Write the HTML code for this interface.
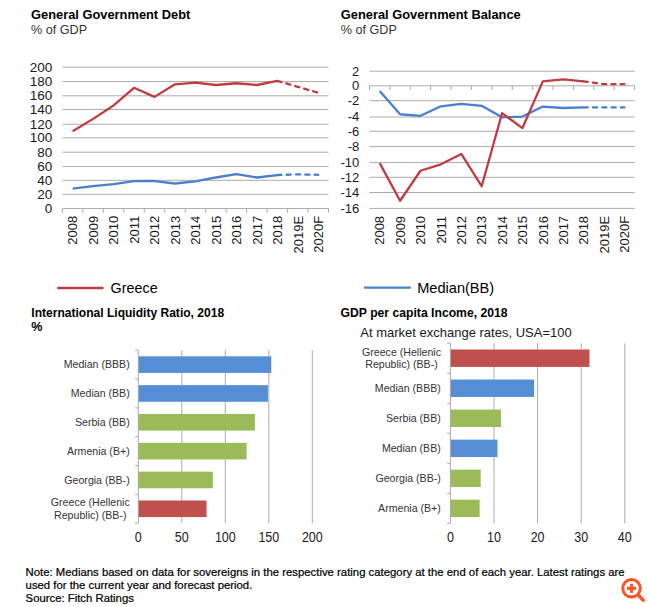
<!DOCTYPE html>
<html><head><meta charset="utf-8"><title>Greece Sovereign Charts</title>
<style>
html,body{margin:0;padding:0;background:#fff;}
body{width:650px;height:607px;overflow:hidden;}
svg{display:block;font-family:"Liberation Sans", Arial, sans-serif;}
text{fill:#1a1a1a;}
.yl{font-size:13.5px;}
.yl2{font-size:13px;}
.xl{font-size:13px;}
.lg{font-size:14.3px;fill:#000;}
.cl{font-size:10.6px;fill:#333;}
.bx{font-size:12.5px;}
.t1{font-size:12.85px;font-weight:bold;fill:#000;}
.st{font-size:12.6px;fill:#333;}
.t2{font-size:12.05px;font-weight:bold;fill:#000;}
.sub{font-size:13px;}
.fn{font-size:11.34px;fill:#000;stroke:#000;stroke-width:0.22px;}
</style></head>
<body>
<svg width="650" height="607" viewBox="0 0 650 607">
<line x1="62.4" y1="194.3" x2="328.5" y2="194.3" stroke="#ababab" stroke-width="1"/>
<line x1="62.4" y1="180.3" x2="328.5" y2="180.3" stroke="#ababab" stroke-width="1"/>
<line x1="62.4" y1="166.5" x2="328.5" y2="166.5" stroke="#ababab" stroke-width="1"/>
<line x1="62.4" y1="152.2" x2="328.5" y2="152.2" stroke="#ababab" stroke-width="1"/>
<line x1="62.4" y1="137.8" x2="328.5" y2="137.8" stroke="#ababab" stroke-width="1"/>
<line x1="62.4" y1="124.25" x2="328.5" y2="124.25" stroke="#ababab" stroke-width="1"/>
<line x1="62.4" y1="109.45" x2="328.5" y2="109.45" stroke="#ababab" stroke-width="1"/>
<line x1="62.4" y1="95.8" x2="328.5" y2="95.8" stroke="#ababab" stroke-width="1"/>
<line x1="62.4" y1="81.55" x2="328.5" y2="81.55" stroke="#ababab" stroke-width="1"/>
<line x1="62.4" y1="67.15" x2="328.5" y2="67.15" stroke="#ababab" stroke-width="1"/>
<line x1="62.4" y1="208.55" x2="328.5" y2="208.55" stroke="#ababab" stroke-width="1"/>
<line x1="62.4" y1="208.55" x2="62.4" y2="212.75" stroke="#ababab" stroke-width="1"/>
<line x1="82.87" y1="208.55" x2="82.87" y2="212.75" stroke="#ababab" stroke-width="1"/>
<line x1="103.34" y1="208.55" x2="103.34" y2="212.75" stroke="#ababab" stroke-width="1"/>
<line x1="123.81" y1="208.55" x2="123.81" y2="212.75" stroke="#ababab" stroke-width="1"/>
<line x1="144.28" y1="208.55" x2="144.28" y2="212.75" stroke="#ababab" stroke-width="1"/>
<line x1="164.75" y1="208.55" x2="164.75" y2="212.75" stroke="#ababab" stroke-width="1"/>
<line x1="185.22" y1="208.55" x2="185.22" y2="212.75" stroke="#ababab" stroke-width="1"/>
<line x1="205.68" y1="208.55" x2="205.68" y2="212.75" stroke="#ababab" stroke-width="1"/>
<line x1="226.15" y1="208.55" x2="226.15" y2="212.75" stroke="#ababab" stroke-width="1"/>
<line x1="246.62" y1="208.55" x2="246.62" y2="212.75" stroke="#ababab" stroke-width="1"/>
<line x1="267.09" y1="208.55" x2="267.09" y2="212.75" stroke="#ababab" stroke-width="1"/>
<line x1="287.56" y1="208.55" x2="287.56" y2="212.75" stroke="#ababab" stroke-width="1"/>
<line x1="308.03" y1="208.55" x2="308.03" y2="212.75" stroke="#ababab" stroke-width="1"/>
<line x1="328.5" y1="208.55" x2="328.5" y2="212.75" stroke="#ababab" stroke-width="1"/>
<text x="52.3" y="212.9" text-anchor="end" class="yl">0</text>
<text x="52.3" y="198.7" text-anchor="end" class="yl">20</text>
<text x="52.3" y="184.7" text-anchor="end" class="yl">40</text>
<text x="52.3" y="170.9" text-anchor="end" class="yl">60</text>
<text x="52.3" y="156.6" text-anchor="end" class="yl">80</text>
<text x="52.3" y="142.2" text-anchor="end" class="yl">100</text>
<text x="52.3" y="128.65" text-anchor="end" class="yl">120</text>
<text x="52.3" y="113.85" text-anchor="end" class="yl">140</text>
<text x="52.3" y="100.2" text-anchor="end" class="yl">160</text>
<text x="52.3" y="85.95" text-anchor="end" class="yl">180</text>
<text x="52.3" y="71.55" text-anchor="end" class="yl">200</text>
<text transform="translate(77.33,215.8) rotate(-90)" text-anchor="end" class="xl">2008</text>
<text transform="translate(97.8,215.8) rotate(-90)" text-anchor="end" class="xl">2009</text>
<text transform="translate(118.27,215.8) rotate(-90)" text-anchor="end" class="xl">2010</text>
<text transform="translate(138.74,215.8) rotate(-90)" text-anchor="end" class="xl">2011</text>
<text transform="translate(159.21,215.8) rotate(-90)" text-anchor="end" class="xl">2012</text>
<text transform="translate(179.68,215.8) rotate(-90)" text-anchor="end" class="xl">2013</text>
<text transform="translate(200.15,215.8) rotate(-90)" text-anchor="end" class="xl">2014</text>
<text transform="translate(220.62,215.8) rotate(-90)" text-anchor="end" class="xl">2015</text>
<text transform="translate(241.09,215.8) rotate(-90)" text-anchor="end" class="xl">2016</text>
<text transform="translate(261.56,215.8) rotate(-90)" text-anchor="end" class="xl">2017</text>
<text transform="translate(282.03,215.8) rotate(-90)" text-anchor="end" class="xl">2018</text>
<text transform="translate(302.5,215.8) rotate(-90)" text-anchor="end" class="xl">2019E</text>
<text transform="translate(322.97,215.8) rotate(-90)" text-anchor="end" class="xl">2020F</text>
<polyline points="72.63,131.31 93.1,118.89 113.57,105.47 134.04,87.82 154.51,96.86 174.98,84.29 195.45,82.53 215.92,85 236.39,83.24 256.86,85 277.33,80.91" fill="none" stroke="#c03c40" stroke-width="2.3" stroke-linejoin="round"/>
<polyline points="277.33,80.91 297.8,86.77 318.27,92.77" fill="none" stroke="#c03c40" stroke-width="2.3" stroke-dasharray="4.2 5.1" stroke-linecap="round"/>
<polyline points="72.63,188.57 93.1,186.17 113.57,184.19 134.04,181.16 154.51,181.02 174.98,183.49 195.45,181.3 215.92,177.49 236.39,174.17 256.86,177.49 277.33,175.02" fill="none" stroke="#4a7fd0" stroke-width="2.3" stroke-linejoin="round"/>
<polyline points="277.33,175.02 297.8,174.38 318.27,174.8" fill="none" stroke="#4a7fd0" stroke-width="2.3" stroke-dasharray="4.2 5.1" stroke-linecap="round"/>
<line x1="369.5" y1="71.2" x2="634.6" y2="71.2" stroke="#ababab" stroke-width="1"/>
<line x1="369.5" y1="100.7" x2="634.6" y2="100.7" stroke="#ababab" stroke-width="1"/>
<line x1="369.5" y1="117" x2="634.6" y2="117" stroke="#ababab" stroke-width="1"/>
<line x1="369.5" y1="131.3" x2="634.6" y2="131.3" stroke="#ababab" stroke-width="1"/>
<line x1="369.5" y1="146.6" x2="634.6" y2="146.6" stroke="#ababab" stroke-width="1"/>
<line x1="369.5" y1="162.6" x2="634.6" y2="162.6" stroke="#ababab" stroke-width="1"/>
<line x1="369.5" y1="177.3" x2="634.6" y2="177.3" stroke="#ababab" stroke-width="1"/>
<line x1="369.5" y1="192.5" x2="634.6" y2="192.5" stroke="#ababab" stroke-width="1"/>
<line x1="369.5" y1="208.4" x2="634.6" y2="208.4" stroke="#ababab" stroke-width="1"/>
<line x1="369.5" y1="85.8" x2="634.6" y2="85.8" stroke="#ababab" stroke-width="1"/>
<line x1="369.5" y1="85.8" x2="369.5" y2="90" stroke="#ababab" stroke-width="1"/>
<line x1="389.89" y1="85.8" x2="389.89" y2="90" stroke="#ababab" stroke-width="1"/>
<line x1="410.28" y1="85.8" x2="410.28" y2="90" stroke="#ababab" stroke-width="1"/>
<line x1="430.68" y1="85.8" x2="430.68" y2="90" stroke="#ababab" stroke-width="1"/>
<line x1="451.07" y1="85.8" x2="451.07" y2="90" stroke="#ababab" stroke-width="1"/>
<line x1="471.46" y1="85.8" x2="471.46" y2="90" stroke="#ababab" stroke-width="1"/>
<line x1="491.85" y1="85.8" x2="491.85" y2="90" stroke="#ababab" stroke-width="1"/>
<line x1="512.25" y1="85.8" x2="512.25" y2="90" stroke="#ababab" stroke-width="1"/>
<line x1="532.64" y1="85.8" x2="532.64" y2="90" stroke="#ababab" stroke-width="1"/>
<line x1="553.03" y1="85.8" x2="553.03" y2="90" stroke="#ababab" stroke-width="1"/>
<line x1="573.42" y1="85.8" x2="573.42" y2="90" stroke="#ababab" stroke-width="1"/>
<line x1="593.82" y1="85.8" x2="593.82" y2="90" stroke="#ababab" stroke-width="1"/>
<line x1="614.21" y1="85.8" x2="614.21" y2="90" stroke="#ababab" stroke-width="1"/>
<line x1="634.6" y1="85.8" x2="634.6" y2="90" stroke="#ababab" stroke-width="1"/>
<text x="359.3" y="75.5" text-anchor="end" class="yl2">2</text>
<text x="359.3" y="90.1" text-anchor="end" class="yl2">0</text>
<text x="359.3" y="105" text-anchor="end" class="yl2">-2</text>
<text x="359.3" y="121.3" text-anchor="end" class="yl2">-4</text>
<text x="359.3" y="135.6" text-anchor="end" class="yl2">-6</text>
<text x="359.3" y="150.9" text-anchor="end" class="yl2">-8</text>
<text x="359.3" y="166.9" text-anchor="end" class="yl2">-10</text>
<text x="359.3" y="181.6" text-anchor="end" class="yl2">-12</text>
<text x="359.3" y="196.8" text-anchor="end" class="yl2">-14</text>
<text x="359.3" y="212.7" text-anchor="end" class="yl2">-16</text>
<text transform="translate(384.4,215.9) rotate(-90)" text-anchor="end" class="xl">2008</text>
<text transform="translate(404.79,215.9) rotate(-90)" text-anchor="end" class="xl">2009</text>
<text transform="translate(425.18,215.9) rotate(-90)" text-anchor="end" class="xl">2010</text>
<text transform="translate(445.57,215.9) rotate(-90)" text-anchor="end" class="xl">2011</text>
<text transform="translate(465.97,215.9) rotate(-90)" text-anchor="end" class="xl">2012</text>
<text transform="translate(486.36,215.9) rotate(-90)" text-anchor="end" class="xl">2013</text>
<text transform="translate(506.75,215.9) rotate(-90)" text-anchor="end" class="xl">2014</text>
<text transform="translate(527.14,215.9) rotate(-90)" text-anchor="end" class="xl">2015</text>
<text transform="translate(547.53,215.9) rotate(-90)" text-anchor="end" class="xl">2016</text>
<text transform="translate(567.93,215.9) rotate(-90)" text-anchor="end" class="xl">2017</text>
<text transform="translate(588.32,215.9) rotate(-90)" text-anchor="end" class="xl">2018</text>
<text transform="translate(608.71,215.9) rotate(-90)" text-anchor="end" class="xl">2019E</text>
<text transform="translate(629.1,215.9) rotate(-90)" text-anchor="end" class="xl">2020F</text>
<polyline points="379.7,90.97 400.09,114.25 420.48,115.78 440.87,106.32 461.27,103.87 481.66,105.86 502.05,117.23 522.44,116.54 542.83,106.54 563.23,108 583.62,107.38" fill="none" stroke="#4a7fd0" stroke-width="2.3" stroke-linejoin="round"/>
<polyline points="583.62,107.38 604.01,107.38 624.4,107.38" fill="none" stroke="#4a7fd0" stroke-width="2.3" stroke-dasharray="4.2 5.1" stroke-linecap="round"/>
<polyline points="379.7,163.11 400.09,200.74 420.48,170.74 440.87,164.33 461.27,153.95 481.66,186.23 502.05,113.19 522.44,128.07 542.83,81.36 563.23,79.37 583.62,81.36" fill="none" stroke="#c03c40" stroke-width="2.3" stroke-linejoin="round"/>
<polyline points="583.62,81.36 604.01,84.18 624.4,84.18" fill="none" stroke="#c03c40" stroke-width="2.3" stroke-dasharray="4.2 5.1" stroke-linecap="round"/>
<line x1="57.2" y1="288" x2="103.5" y2="288" stroke="#c03c40" stroke-width="2.3"/>
<text x="110.5" y="292.9" class="lg" textLength="47.2" lengthAdjust="spacingAndGlyphs">Greece</text>
<line x1="364.1" y1="287.7" x2="410.9" y2="287.7" stroke="#4a7fd0" stroke-width="2.3"/>
<text x="417.2" y="292.9" class="lg" textLength="77" lengthAdjust="spacingAndGlyphs">Median(BB)</text>
<line x1="181.8" y1="350.2" x2="181.8" y2="523.2" stroke="#ababab" stroke-width="1"/>
<line x1="225.3" y1="350.2" x2="225.3" y2="523.2" stroke="#ababab" stroke-width="1"/>
<line x1="268.8" y1="350.2" x2="268.8" y2="523.2" stroke="#ababab" stroke-width="1"/>
<line x1="312.3" y1="350.2" x2="312.3" y2="523.2" stroke="#ababab" stroke-width="1"/>
<rect x="138.3" y="356.32" width="132.94" height="16.6" fill="#558ed5"/>
<text x="129.7" y="368.42" text-anchor="end" class="cl">Median (BBB)</text>
<rect x="138.3" y="385.15" width="129.63" height="16.6" fill="#558ed5"/>
<text x="129.7" y="397.25" text-anchor="end" class="cl">Median (BB)</text>
<rect x="138.3" y="413.98" width="116.58" height="16.6" fill="#9bbb59"/>
<text x="129.7" y="426.08" text-anchor="end" class="cl">Serbia (BB)</text>
<rect x="138.3" y="442.82" width="108.31" height="16.6" fill="#9bbb59"/>
<text x="129.7" y="454.92" text-anchor="end" class="cl">Armenia (B+)</text>
<rect x="138.3" y="471.65" width="74.56" height="16.6" fill="#9bbb59"/>
<text x="129.7" y="483.75" text-anchor="end" class="cl">Georgia (BB-)</text>
<rect x="138.3" y="500.48" width="68.21" height="16.6" fill="#c0504d"/>
<text x="90.3" y="506.08" text-anchor="middle" class="cl">Greece (Hellenic</text>
<text x="90.3" y="519.08" text-anchor="middle" class="cl">Republic) (BB-)</text>
<line x1="138.3" y1="350.2" x2="138.3" y2="523.2" stroke="#ababab" stroke-width="1"/>
<line x1="135.1" y1="350.2" x2="138.3" y2="350.2" stroke="#ababab" stroke-width="1"/>
<line x1="135.1" y1="379.03" x2="138.3" y2="379.03" stroke="#ababab" stroke-width="1"/>
<line x1="135.1" y1="407.87" x2="138.3" y2="407.87" stroke="#ababab" stroke-width="1"/>
<line x1="135.1" y1="436.7" x2="138.3" y2="436.7" stroke="#ababab" stroke-width="1"/>
<line x1="135.1" y1="465.53" x2="138.3" y2="465.53" stroke="#ababab" stroke-width="1"/>
<line x1="135.1" y1="494.37" x2="138.3" y2="494.37" stroke="#ababab" stroke-width="1"/>
<line x1="135.1" y1="523.2" x2="138.3" y2="523.2" stroke="#ababab" stroke-width="1"/>
<text transform="translate(138.3,542.2) scale(1,1.14)" text-anchor="middle" class="bx">0</text>
<text transform="translate(181.8,542.2) scale(1,1.14)" text-anchor="middle" class="bx">50</text>
<text transform="translate(225.3,542.2) scale(1,1.14)" text-anchor="middle" class="bx">100</text>
<text transform="translate(268.8,542.2) scale(1,1.14)" text-anchor="middle" class="bx">150</text>
<text transform="translate(312.3,542.2) scale(1,1.14)" text-anchor="middle" class="bx">200</text>
<line x1="494" y1="343.2" x2="494" y2="523.4" stroke="#ababab" stroke-width="1"/>
<line x1="537.6" y1="343.2" x2="537.6" y2="523.4" stroke="#ababab" stroke-width="1"/>
<line x1="581.2" y1="343.2" x2="581.2" y2="523.4" stroke="#ababab" stroke-width="1"/>
<line x1="624.8" y1="343.2" x2="624.8" y2="523.4" stroke="#ababab" stroke-width="1"/>
<rect x="450.4" y="349.52" width="139.08" height="17.4" fill="#c0504d"/>
<text x="401.5" y="355.7" text-anchor="middle" class="cl">Greece (Hellenic</text>
<text x="401.5" y="367.7" text-anchor="middle" class="cl">Republic) (BB-)</text>
<rect x="450.4" y="379.55" width="83.71" height="17.4" fill="#558ed5"/>
<text x="440.8" y="391.55" text-anchor="end" class="cl">Median (BBB)</text>
<rect x="450.4" y="409.58" width="50.58" height="17.4" fill="#9bbb59"/>
<text x="440.8" y="421.58" text-anchor="end" class="cl">Serbia (BB)</text>
<rect x="450.4" y="439.62" width="47.09" height="17.4" fill="#558ed5"/>
<text x="440.8" y="451.62" text-anchor="end" class="cl">Median (BB)</text>
<rect x="450.4" y="469.65" width="30.3" height="17.4" fill="#9bbb59"/>
<text x="440.8" y="481.65" text-anchor="end" class="cl">Georgia (BB-)</text>
<rect x="450.4" y="499.68" width="29.21" height="17.4" fill="#9bbb59"/>
<text x="440.8" y="511.68" text-anchor="end" class="cl">Armenia (B+)</text>
<line x1="450.4" y1="343.2" x2="450.4" y2="523.4" stroke="#ababab" stroke-width="1"/>
<line x1="447.2" y1="343.2" x2="450.4" y2="343.2" stroke="#ababab" stroke-width="1"/>
<line x1="447.2" y1="373.23" x2="450.4" y2="373.23" stroke="#ababab" stroke-width="1"/>
<line x1="447.2" y1="403.27" x2="450.4" y2="403.27" stroke="#ababab" stroke-width="1"/>
<line x1="447.2" y1="433.3" x2="450.4" y2="433.3" stroke="#ababab" stroke-width="1"/>
<line x1="447.2" y1="463.33" x2="450.4" y2="463.33" stroke="#ababab" stroke-width="1"/>
<line x1="447.2" y1="493.37" x2="450.4" y2="493.37" stroke="#ababab" stroke-width="1"/>
<line x1="447.2" y1="523.4" x2="450.4" y2="523.4" stroke="#ababab" stroke-width="1"/>
<text transform="translate(450.4,542.2) scale(1,1.14)" text-anchor="middle" class="bx">0</text>
<text transform="translate(494,542.2) scale(1,1.14)" text-anchor="middle" class="bx">10</text>
<text transform="translate(537.6,542.2) scale(1,1.14)" text-anchor="middle" class="bx">20</text>
<text transform="translate(581.2,542.2) scale(1,1.14)" text-anchor="middle" class="bx">30</text>
<text transform="translate(624.8,542.2) scale(1,1.14)" text-anchor="middle" class="bx">40</text>
<text x="31.1" y="18.8" class="t1">General Government Debt</text>
<text transform="translate(31.1,34.3) scale(1,1.08)" class="st">% of GDP</text>
<text x="340.8" y="18.8" class="t1">General Government Balance</text>
<text transform="translate(340.8,34.3) scale(1,1.08)" class="st">% of GDP</text>
<text x="31.3" y="317.3" class="t2">International Liquidity Ratio, 2018</text>
<text x="31.3" y="330.7" class="t2" style="font-size:12.6px">%</text>
<text x="340.6" y="317.3" class="t2" textLength="167" lengthAdjust="spacingAndGlyphs">GDP per capita Income, 2018</text>
<text x="360.3" y="337.4" class="sub">At market exchange rates, USA=100</text>
<text x="25.6" y="575.6" class="fn" textLength="599" lengthAdjust="spacingAndGlyphs">Note: Medians based on data for sovereigns in the respective rating category at the end of each year. Latest ratings are</text>
<text x="25.6" y="589" class="fn">used for the current year and forecast period.</text>
<text x="25.6" y="601.5" class="fn">Source: Fitch Ratings</text>
<circle cx="631.5" cy="588.3" r="8.8" fill="none" stroke="#ff5526" stroke-width="3"/>
<line x1="627" y1="588.3" x2="636" y2="588.3" stroke="#ff5526" stroke-width="3.2"/>
<line x1="631.5" y1="583.8" x2="631.5" y2="592.8" stroke="#ff5526" stroke-width="3.2"/>
<line x1="638.5" y1="595.3" x2="643.3" y2="600.3" stroke="#ff5526" stroke-width="3.4" stroke-linecap="round"/>
</svg>
</body></html>
